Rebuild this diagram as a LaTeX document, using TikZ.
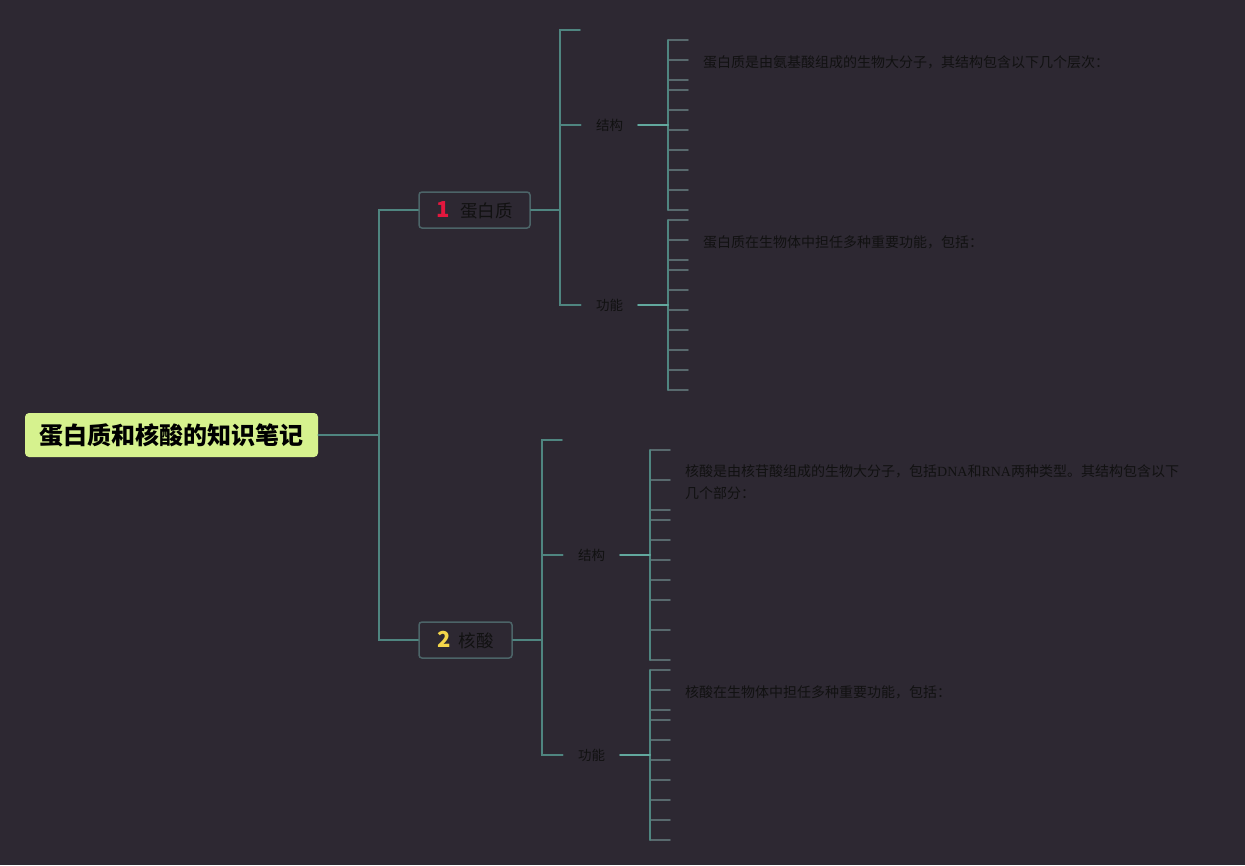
\documentclass[tikz,border=0pt]{standalone}
\usepackage{fontspec}
\setmainfont{Noto Sans CJK SC}
\newfontfamily\latinserif{Liberation Serif}
\usepackage{tikz}
\usetikzlibrary{positioning}
\definecolor{bgcol}{HTML}{2D2832}
\definecolor{linkcol}{HTML}{4F8580}
\definecolor{entrycol}{HTML}{62A89E}
\definecolor{stubcol}{HTML}{58696D}
\definecolor{boxline}{HTML}{4C6468}
\definecolor{rootfill}{HTML}{D6F28E}
\definecolor{inkcol}{HTML}{111111}
\definecolor{numred}{HTML}{E3173E}
\definecolor{numyellow}{HTML}{F4D64A}
\tikzstyle{link} = [draw, line width=1.5pt, linkcol]
\tikzstyle{entry} = [draw, line width=2pt, entrycol]
\tikzstyle{stub} = [draw, line width=1.5pt, stubcol]
\tikzstyle{root} = [rectangle, rounded corners=4pt, fill=rootfill, minimum width=293pt, minimum height=44pt, font=\fontsize{24}{24}\selectfont\bfseries, text=black]
\tikzstyle{topic} = [rectangle, rounded corners=3pt, draw=boxline, line width=1.5pt, minimum height=36pt, font=\fontsize{17.5}{17.5}\selectfont, text=inkcol]
\tikzstyle{sub} = [font=\fontsize{13.5}{13.5}\selectfont, text=inkcol, inner xsep=15pt, inner ysep=2pt]
\tikzstyle{note} = [font=\fontsize{14}{22}\selectfont, text=inkcol, inner sep=0pt, anchor=west, align=left]

\begin{document}
\begin{tikzpicture}[x=1pt, y=-1pt, line cap=round]
        \fill [bgcol] (0,0) rectangle (1245,865);
        \useasboundingbox (0,0) rectangle (1245,865);

        % main topics
        \node [root] (root) at (171.5,435) {\raisebox{-1pt}{蛋白质和核酸的知识笔记}};
        \node [topic, minimum width=111pt] (protein) at (474.5,210) {\raisebox{-1.5pt}{{\color{numred}\bfseries\fontsize{22}{22}\selectfont 1}\hspace{11pt}蛋白质}};
        \node [topic, minimum width=93pt] (nucleic) at (465.5,640) {\raisebox{-1.5pt}{{\color{numyellow}\bfseries\fontsize{22}{22}\selectfont 2}\hspace{8pt}核酸}};

        \coordinate (trunk) at (379,435);
        \coordinate (trunktop) at (379,210);
        \coordinate (trunkbot) at (379,640);
        \path [link] (root.east) -- (trunk);
        \path [link] (protein.west) -- (trunktop) -- (trunkbot) -- (nucleic.west);

        % protein branch
        \node [sub] (pstruct) at (609.5,125) {\raisebox{-1pt}{结构}};
        \node [sub] (pfunc) at (609.5,305) {\raisebox{-1pt}{功能}};
        \coordinate (pjoin) at (560,210);
        \coordinate (ptop) at (560,30);
        \coordinate (pfree) at (580,30);
        \coordinate (pmid) at (560,125);
        \coordinate (pbot) at (560,305);
        \path [link] (protein.east) -- (pjoin);
        \path [link] (pfree) -- (ptop) -- (pbot) -- (pfunc.west);
        \path [link] (pmid) -- (pstruct.west);

        % nucleic branch
        \node [sub] (nstruct) at (591.5,555) {\raisebox{-1pt}{结构}};
        \node [sub] (nfunc) at (591.5,755) {\raisebox{-1pt}{功能}};
        \coordinate (njoin) at (542,640);
        \coordinate (ntop) at (542,440);
        \coordinate (nfree) at (562,440);
        \coordinate (nmid) at (542,555);
        \coordinate (nbot) at (542,755);
        \path [link] (nucleic.east) -- (njoin);
        \path [link] (nfree) -- (ntop) -- (nbot) -- (nfunc.west);
        \path [link] (nmid) -- (nstruct.west);

        % brackets with stubs
        \foreach \name/\sx/\ylist in {psa/668/{40,60,80,90,110,130,150,170,190,210},
                                      pfa/668/{220,240,260,270,290,310,330,350,370,390},
                                      nsa/650/{450,480,510,520,540,560,580,600,630,660},
                                      nfa/650/{670,690,710,720,740,760,780,800,820,840}} {
            \foreach \y [count=\i] in \ylist {
                \coordinate (\name\i) at (\sx,\y);
                \coordinate (\name\i x) at (\sx+20,\y);
                \path [stub] (\name\i) -- (\name\i x);
            }
            \path [link] (\name1) -- (\name10);
        }
        \path [entry] (pstruct.east) -- (pstruct.east -| psa1);
        \path [entry] (pfunc.east) -- (pfunc.east -| pfa1);
        \path [entry] (nstruct.east) -- (nstruct.east -| nsa1);
        \path [entry] (nfunc.east) -- (nfunc.east -| nfa1);

        % notes
        \node [note, right=15pt of psa2x, yshift=-2pt] (pstructnote) {蛋白质是由氨基酸组成的生物大分子，其结构包含以下几个层次：};
        \node [note, right=15pt of pfa2x, yshift=-2pt] (pfuncnote) {蛋白质在生物体中担任多种重要功能，包括：};
        \node [note, anchor=north west] (nstructnote) at (685,464) {核酸是由核苷酸组成的生物大分子，包括{\latinserif DNA}和{\latinserif RNA}两种类型。其结构包含以下\\几个部分：};
        \node [note, right=15pt of nfa2x, yshift=-2pt] (nfuncnote) {核酸在生物体中担任多种重要功能，包括：};
    \end{tikzpicture}
\end{document}
